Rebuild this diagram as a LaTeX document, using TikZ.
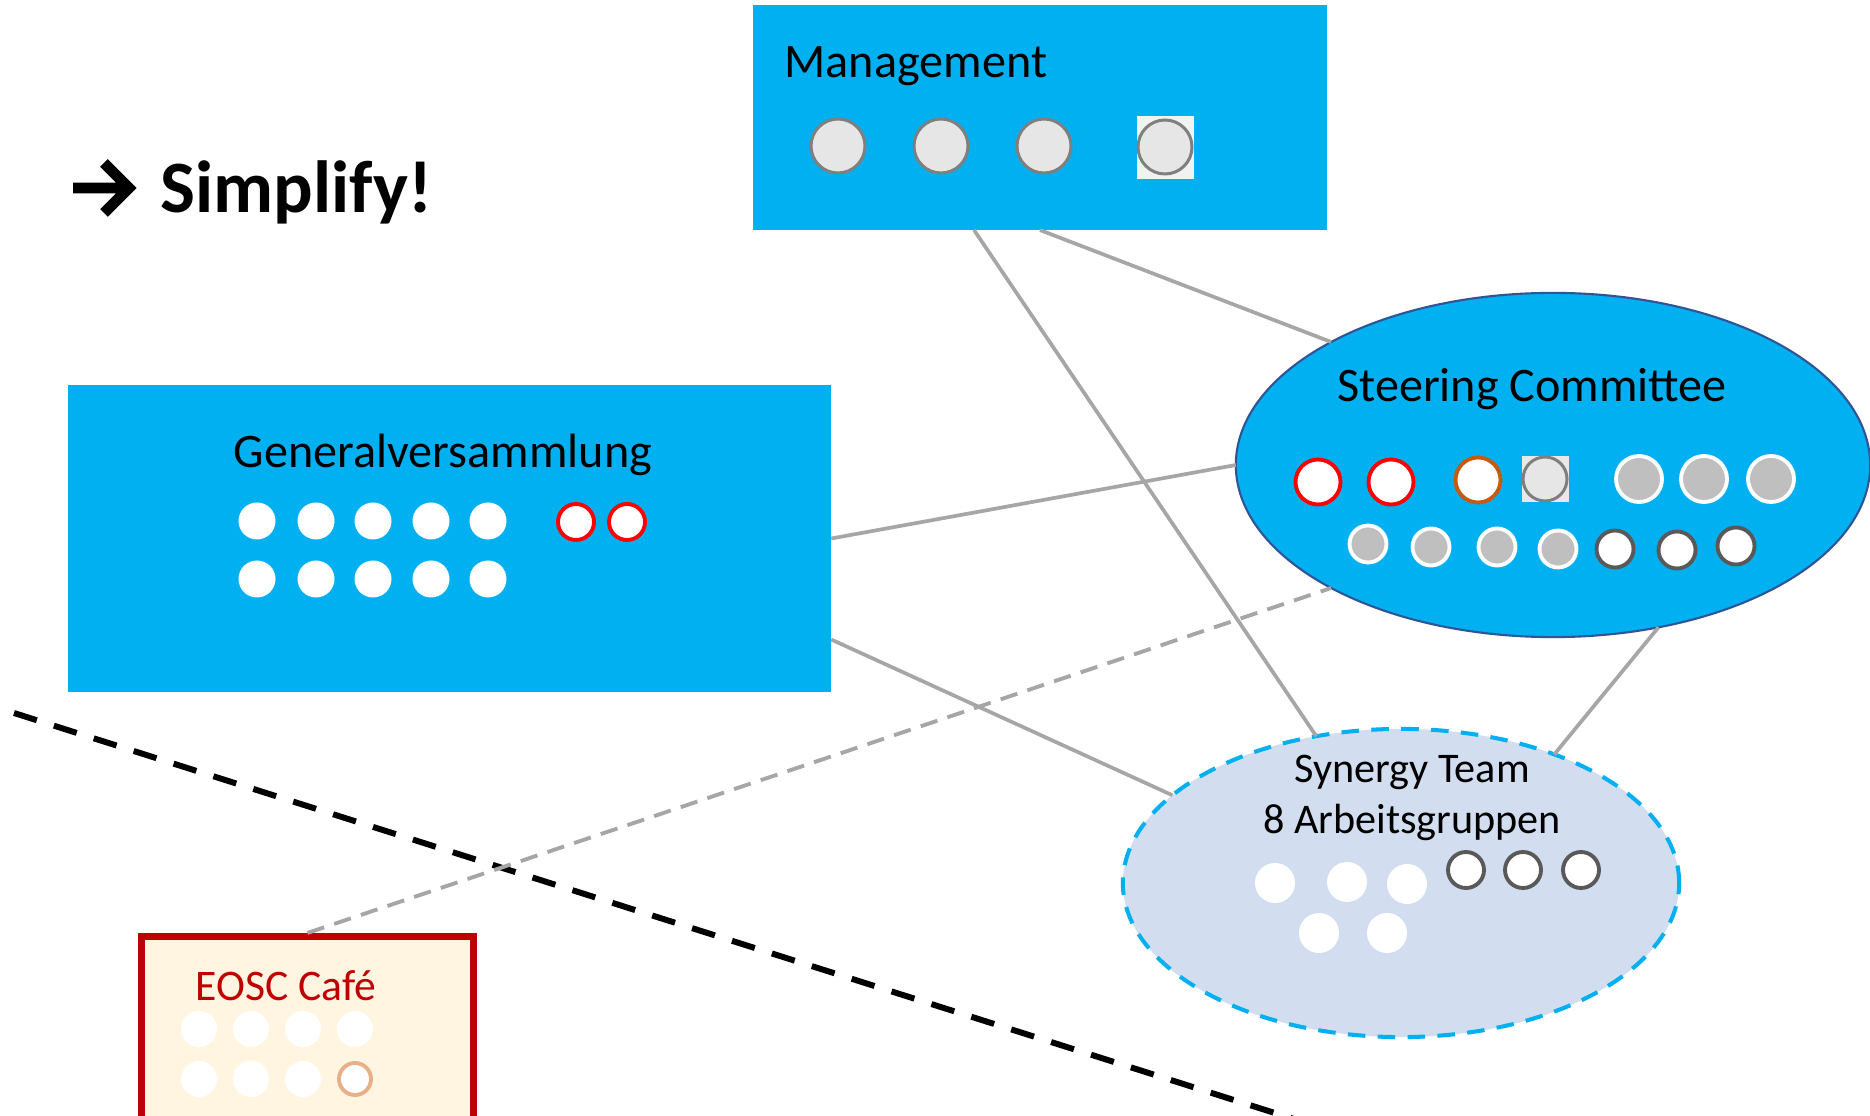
\documentclass[tikz,border=0pt]{standalone}
\usepackage{fontspec}
\setmainfont{Carlito}
\usepackage{xcolor}
\usetikzlibrary{shapes.geometric, calc}

\definecolor{sky}{HTML}{00B0F0}
\definecolor{navy}{HTML}{2F5597}
\definecolor{paleblue}{HTML}{D2DEEF}
\definecolor{linkgray}{HTML}{A6A6A6}
\definecolor{memgray}{HTML}{E6E6E6}
\definecolor{midgray}{HTML}{7F7F7F}
\definecolor{dotgray}{HTML}{BFBFBF}
\definecolor{darkring}{HTML}{595959}
\definecolor{burnt}{HTML}{C55A11}
\definecolor{cafered}{HTML}{C00000}
\definecolor{cream}{HTML}{FFF5E1}
\definecolor{peach}{HTML}{E8B088}

\tikzset{
  box/.style={rectangle, fill=sky, inner sep=0pt, outer sep=0pt},
  blob/.style={ellipse, inner sep=0pt, outer sep=0pt},
  lbl/.style={inner sep=0pt, font=\fontsize{13.7}{16}\selectfont},
  link/.style={draw=linkgray, line width=1.05pt},
  wdot/.style={fill=white},
  member/.style={fill=memgray, draw=midgray, line width=0.85pt},
  redring/.style={fill=white, draw=red, line width=1.1pt},
  greydot/.style={fill=dotgray, draw=white, line width=1.1pt},
  darkdot/.style={fill=white, draw=darkring, line width=1.1pt}
}

\begin{document}
\begin{tikzpicture}[x=0.01cm, y=-0.01cm]

\fill[white] (0,0) rectangle (1870,1116);
\useasboundingbox (0,0) rectangle (1870,1116);

% boxes
\node (mgmt) [box, minimum width=5.74cm, minimum height=2.25cm] at (1040,117.5) {};
\node (ga) [box, minimum width=7.63cm, minimum height=3.07cm] at (449.5,538.5) {};
\node (sc) [blob, fill=sky, draw=navy, line width=0.6pt,
  minimum width=6.34cm, minimum height=3.44cm] at (1553,465) {};
\node (syn) [blob, fill=paleblue, draw=sky, line width=1.15pt,
  dash pattern=on 5pt off 3.5pt, minimum width=5.56cm, minimum height=3.08cm] at (1401,883) {};
\node (cafe) [rectangle, fill=cream, draw=cafered, line width=2pt,
  minimum width=3.32cm, minimum height=2cm] at (307.5,1036.5) {};

% cut line
\coordinate (cutA) at (14,713);
\coordinate (cutB) at (1300,1121);
\draw[black, line width=1.7pt, dash pattern=on 6.8pt off 5.1pt] (cutA) -- (cutB);

% connectors
\draw[link] ($(mgmt.south)+(-66,0)$) -- (syn.120);
\draw[link] (mgmt.south) -- (sc.151);
\draw[link] (ga.east) -- (sc.west);
\draw[link] ($(ga.east)+(0,101)$) -- (syn.159);
\draw[link] (sc.-57) -- (syn.40);
\draw[link, line width=1.1pt, dash pattern=on 5pt off 3pt] (cafe.north) -- (sc.209);

% arrow and title
\draw[line width=3.1pt, miter limit=4] (73,188) -- (128,188) (104,163) -- (129,188) -- (104,213);
\node (simplify) [inner sep=0pt, anchor=base west, font=\bfseries\fontsize{21}{24}\selectfont]
  at (160,213) {Simplify!};

% labels
\node (mgmtlabel) [lbl, anchor=base west] at (784,78) {Management};
\node (galabel) [lbl, anchor=base] at (443,468) {Generalversammlung};
\node (sclabel) [lbl, anchor=base] at (1532,402) {Steering Committee};
\node (synlabel) [inner sep=0pt, anchor=base, align=center, font=\fontsize{12}{14.5}\selectfont]
  at (1412,833) {Synergy Team\\8 Arbeitsgruppen};
\node (cafelabel) [inner sep=0pt, anchor=base west, text=cafered, font=\fontsize{12.4}{14}\selectfont]
  at (195,1000) {EOSC Café};

% management members
\fill[color=black!5] (1137,116) rectangle (1194,179);
\foreach \x/\y in {838/146, 941/146, 1044/146, 1165/147}
  \draw[member] (\x,\y) circle (27);

% general assembly
\foreach \x in {257,316,373,431,488}
  \foreach \y in {521,579}
    \fill[wdot] (\x,\y) circle (18.5);
\foreach \x in {576,627}
  \draw[redring] (\x,522) circle (18);

% steering committee
\draw[redring] (1318,482) circle (22.5);
\draw[redring] (1391,482) circle (22.5);
\draw[redring, draw=burnt] (1478,480) circle (22.5);
\fill[color=black!9] (1522,456) rectangle (1569,502);
\draw[member] (1545,479) circle (22);
\foreach \x in {1639,1704,1771}
  \draw[greydot] (\x,479) circle (23);
\foreach \x/\y in {1368/544, 1431/547, 1497/547, 1558/549}
  \draw[greydot] (\x,\y) circle (18.5);
\foreach \x/\y in {1615/549, 1677/550, 1736/546}
  \draw[darkdot] (\x,\y) circle (18.5);

% synergy team
\foreach \x/\y in {1275/883, 1347/882, 1407/884, 1319/933, 1387/933}
  \fill[wdot] (\x,\y) circle (20);
\foreach \x in {1466,1523,1581}
  \draw[darkdot] (\x,870) circle (18);

% cafe
\foreach \x in {199,251,303,355}
  \fill[wdot] (\x,1029) circle (18);
\foreach \x in {199,251,303}
  \fill[wdot] (\x,1079) circle (18);
\draw[fill=white, draw=peach, line width=1.1pt] (355,1079) circle (16);

\end{tikzpicture}
\end{document}
